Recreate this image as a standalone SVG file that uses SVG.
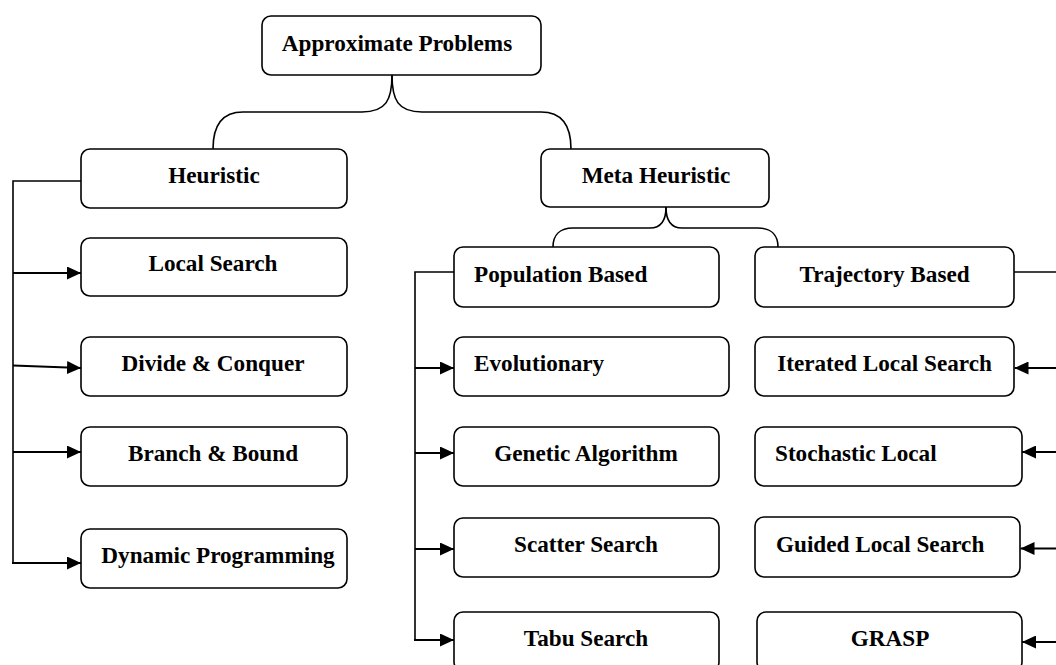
<svg xmlns="http://www.w3.org/2000/svg" width="1056" height="665" viewBox="0 0 1056 665">
<style>
.box{fill:#fff;stroke:#000;stroke-width:1.6}
.t{font-family:"Liberation Serif","Times New Roman",serif;font-weight:bold;font-size:23.2px;fill:#000}
.c{text-anchor:middle}
.ln{fill:none;stroke:#000;stroke-width:1.6}
.ar{fill:none;stroke:#000;stroke-width:2}
</style>
<defs>
<marker id="ah" markerUnits="userSpaceOnUse" markerWidth="14" markerHeight="13" refX="14" refY="6.5" orient="auto">
<path d="M0,0 L14,6.5 L0,13 Z" fill="#000"/>
</marker>
</defs>
<rect width="1056" height="665" fill="#fff"/>
<g id="connectors">
<path class="ln" d="M392,75 C392,100 386,112 362,112 L243,112 C222,112 213,125 213,149"/>
<path class="ln" d="M392,75 C392,100 398,112 422,112 L541,112 C562,112 571,125 571,149"/>
<path class="ln" d="M666,207 C666,220 662,228 650,228 L573,228 C560,228 553,235 553,247"/>
<path class="ln" d="M666,207 C666,220 670,228 682,228 L758,228 C771,228 778,235 778,247"/>
<path class="ln" d="M81,181 L13,181 L13,563"/>
<path class="ar" d="M13,273 L81,273" marker-end="url(#ah)"/>
<path class="ar" d="M13,365.5 L81,368" marker-end="url(#ah)"/>
<path class="ar" d="M13,452 L81,452" marker-end="url(#ah)"/>
<path class="ar" d="M12,563 L81,563" marker-end="url(#ah)"/>
<path class="ln" d="M454,272 L415,272 L415,640"/>
<path class="ar" d="M415,368 L454,368" marker-end="url(#ah)"/>
<path class="ar" d="M415,453 L454,453" marker-end="url(#ah)"/>
<path class="ar" d="M415,549 L454,549" marker-end="url(#ah)"/>
<path class="ar" d="M414,640 L454,640" marker-end="url(#ah)"/>
<path class="ln" d="M1014,272 L1056,272"/>
<path class="ar" d="M1056,368 L1014.5,368" marker-end="url(#ah)"/>
<path class="ar" d="M1056,452 L1022,452" marker-end="url(#ah)"/>
<path class="ar" d="M1056,548.5 L1020.5,548.5" marker-end="url(#ah)"/>
<path class="ar" d="M1056,642 L1022,642" marker-end="url(#ah)"/>
</g>
<g id="approximate-problems"><rect class="box" x="262" y="16" width="279" height="59" rx="9"/><text class="t c" x="397" y="51">Approximate Problems</text></g>
<g id="heuristic"><rect class="box" x="81" y="149" width="266" height="59" rx="9"/><text class="t c" x="214" y="183">Heuristic</text></g>
<g id="local-search"><rect class="box" x="81" y="238" width="266" height="58" rx="9"/><text class="t c" x="213" y="271">Local Search</text></g>
<g id="divide-conquer"><rect class="box" x="81" y="337" width="266" height="59" rx="9"/><text class="t c" x="213" y="371">Divide &amp; Conquer</text></g>
<g id="branch-bound"><rect class="box" x="81" y="427" width="266" height="59" rx="9"/><text class="t c" x="213" y="461">Branch &amp; Bound</text></g>
<g id="dynamic-programming"><rect class="box" x="81" y="529" width="266" height="59" rx="9"/><text class="t c" x="218" y="563">Dynamic Programming</text></g>
<g id="meta-heuristic"><rect class="box" x="541" y="149" width="228" height="58" rx="9"/><text class="t c" x="656" y="183">Meta Heuristic</text></g>
<g id="population-based"><rect class="box" x="454" y="247" width="265" height="60" rx="9"/><text class="t" x="474" y="282">Population Based</text></g>
<g id="evolutionary"><rect class="box" x="454" y="337" width="275" height="59" rx="9"/><text class="t" x="474" y="371">Evolutionary</text></g>
<g id="genetic-algorithm"><rect class="box" x="454" y="427" width="265" height="59" rx="9"/><text class="t c" x="586" y="461">Genetic Algorithm</text></g>
<g id="scatter-search"><rect class="box" x="454" y="518" width="265" height="59" rx="9"/><text class="t c" x="586" y="552">Scatter Search</text></g>
<g id="tabu-search"><rect class="box" x="454" y="612" width="265" height="59" rx="9"/><text class="t c" x="586" y="646">Tabu Search</text></g>
<g id="trajectory-based"><rect class="box" x="755" y="247" width="259" height="60" rx="9"/><text class="t c" x="884.5" y="282">Trajectory Based</text></g>
<g id="iterated-local-search"><rect class="box" x="755" y="337" width="259" height="59" rx="9"/><text class="t c" x="884.5" y="371">Iterated Local Search</text></g>
<g id="stochastic-local"><rect class="box" x="755" y="427" width="267" height="59" rx="9"/><text class="t" x="775" y="461">Stochastic Local</text></g>
<g id="guided-local-search"><rect class="box" x="755" y="517" width="265" height="60" rx="9"/><text class="t" x="776" y="552">Guided Local Search</text></g>
<g id="grasp"><rect class="box" x="757" y="612" width="265" height="59" rx="9"/><text class="t c" x="890" y="646">GRASP</text></g>
</svg>
